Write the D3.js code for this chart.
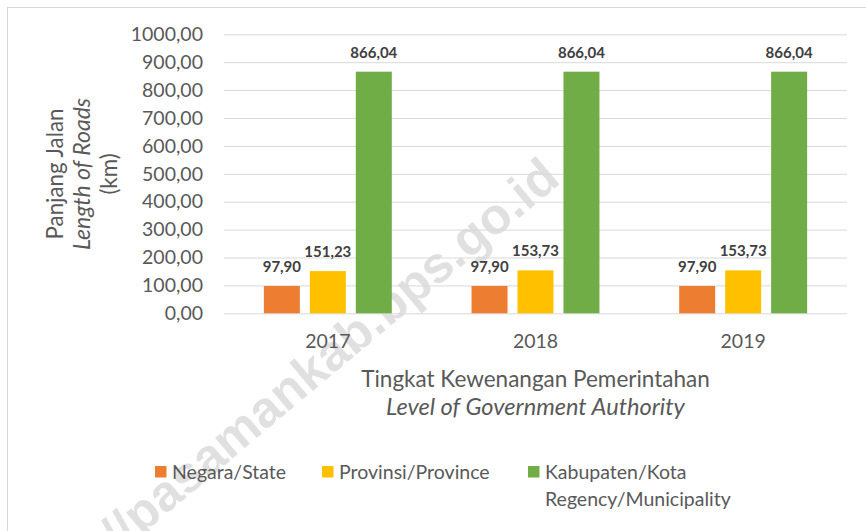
<!DOCTYPE html>
<html>
<head>
<meta charset="utf-8">
<script src="https://cdn.jsdelivr.net/npm/d3@7"></script>
<style>
  html, body { margin: 0; padding: 0; background: #fff; }
  svg { display: block; }
  text { font-family: Lato, "Open Sans", sans-serif; }
</style>
</head>
<body>
<svg id="chart" width="866" height="531"></svg>
<script>
// ---- data ----
const years = ["2017", "2018", "2019"];
const seriesNames = ["Negara/State", "Provinsi/Province", "Kabupaten/Kota"];
const legendLabels = [["Negara/State"], ["Provinsi/Province"], ["Kabupaten/Kota", "Regency/Municipality"]];
const negara = [97.90, 97.90, 97.90];
const provinsi = [151.23, 153.73, 153.73];
const kabupaten = [866.04, 866.04, 866.04];
const yTicks = [0, 100, 200, 300, 400, 500, 600, 700, 800, 900, 1000];
const yTitle = ["Panjang Jalan", "Length of Roads", "(km)"];
const xTitle = ["Tingkat Kewenangan Pemerintahan", "Level of Government Authority"];
const watermark = "https://pasamankab.bps.go.id";

// ---- styles ----
const colors = ["#ED7D31", "#FFC000", "#70AD47"];
const yTitleStyle = [{ it: "normal", fs: 22.3 }, { it: "italic", fs: 23 }, { it: "normal", fs: 22.3 }];
const xTitleStyle = [{ it: "normal", fs: 22.5 }, { it: "italic", fs: 23.6 }];

const values = [negara, provinsi, kabupaten];
const fmt = v => d3.format(".2f")(v).replace(".", ",");

const svg = d3.select("#chart");
const W = 866, H = 531;
const plot = { left: 224, right: 847, top: 34.3, bottom: 313.3 };

// chart border
svg.append("rect")
  .attr("x", 7.5).attr("y", 7.5)
  .attr("width", W + 20).attr("height", H + 20)
  .attr("fill", "#fff").attr("stroke", "#D9D9D9").attr("stroke-width", 1);

// watermark (behind everything)
svg.append("text")
  .attr("transform", "translate(562,182) rotate(-40)")
  .attr("text-anchor", "end")
  .style("font-family", "'Liberation Sans', Arial, sans-serif")
  .style("font-weight", "bold")
  .style("font-size", "51px")
  .attr("fill", "#000").attr("fill-opacity", 0.12)
  .text(watermark);

const y = d3.scaleLinear().domain([0, 1000]).range([plot.bottom, plot.top]);
const x = d3.scaleBand().domain(years).range([plot.left, plot.right])
  .paddingInner(0.384).paddingOuter(0.192);
const xs = d3.scaleBand().domain(seriesNames).range([0, x.bandwidth()])
  .paddingInner(0.217).paddingOuter(0);

// gridlines + y tick labels via axis
const yAxis = d3.axisLeft(y).tickValues(yTicks).tickFormat(fmt)
  .tickSize(-(plot.right - plot.left)).tickPadding(21);
const gy = svg.append("g").attr("transform", `translate(${plot.left},0)`).call(yAxis);
gy.select(".domain").remove();
gy.selectAll(".tick line").attr("stroke", "#D9D9D9").attr("stroke-width", 1);
gy.selectAll(".tick text").attr("fill", "#595959").style("font-size", "19.5px");

// bars
const data = [];
years.forEach((yr, i) => seriesNames.forEach((s, j) => data.push({ yr, s, j, v: values[j][i] })));

svg.append("g").selectAll("rect").data(data).join("rect")
  .attr("x", d => x(d.yr) + xs(d.s))
  .attr("width", xs.bandwidth())
  .attr("y", d => y(d.v))
  .attr("height", d => y(0) - y(d.v))
  .attr("fill", d => colors[d.j]);

// data labels
svg.append("g").selectAll("text").data(data).join("text")
  .attr("x", d => x(d.yr) + xs(d.s) + xs.bandwidth() / 2)
  .attr("y", d => y(d.v) - 14)
  .attr("text-anchor", "middle")
  .attr("fill", "#404040")
  .style("font-size", "15px").style("font-weight", "bold")
  .text(d => fmt(d.v));

// x axis labels
const xAxis = d3.axisBottom(x).tickSize(0).tickPadding(21);
const gx = svg.append("g").attr("transform", `translate(0,${plot.bottom})`).call(xAxis);
gx.select(".domain").remove();
gx.selectAll(".tick text").attr("fill", "#595959").style("font-size", "19.5px");

// x title
const cx = (plot.left + plot.right) / 2;
svg.append("g").selectAll("text").data(xTitle).join("text")
  .attr("x", cx).attr("y", (d, i) => 387 + i * 28)
  .attr("text-anchor", "middle").attr("fill", "#595959")
  .style("font-size", (d, i) => xTitleStyle[i].fs + "px")
  .style("font-style", (d, i) => xTitleStyle[i].it)
  .text(d => d);

// y title
svg.append("g").selectAll("text").data(yTitle).join("text")
  .attr("transform", (d, i) => `translate(${63 + i * 27},174) rotate(-90)`)
  .attr("text-anchor", "middle").attr("fill", "#595959")
  .style("font-size", (d, i) => yTitleStyle[i].fs + "px")
  .style("font-style", (d, i) => yTitleStyle[i].it)
  .text(d => d);

// legend
const legendX = [155, 322, 528];
const lg = svg.append("g").selectAll("g").data(legendLabels).join("g")
  .attr("transform", (d, i) => `translate(${legendX[i]},0)`);
lg.append("rect").attr("x", 0).attr("y", 466).attr("width", 11.5).attr("height", 11.5)
  .attr("fill", (d, i) => colors[i]);
lg.selectAll("text").data(d => d).join("text")
  .attr("x", 17).attr("y", (d, i) => 479 + i * 26.5)
  .attr("fill", "#595959").style("font-size", "19.5px")
  .text(d => d);
</script>
</body>
</html>
